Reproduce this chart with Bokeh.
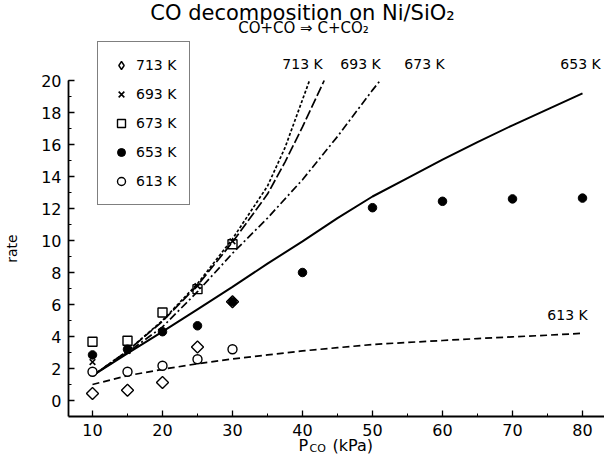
import math
from bokeh.plotting import figure
from bokeh.models import Label, Legend, LegendItem, FixedTicker, LinearAxis
from bokeh.core.properties import value
from bokeh.embed import file_html
from bokeh.resources import INLINE

# ---------------- data ----------------
pco_pts = [10, 15, 20, 25, 30]
rate_713 = [0.44, 0.64, 1.12, 3.35, 6.17]
rate_693 = [2.4, 3.1, 4.3, 7.15, 9.95]
rate_673 = [3.67, 3.73, 5.5, 6.96, 9.77]
rate_613 = [1.8, 1.8, 2.17, 2.58, 3.2]
pco_653 = [10, 15, 20, 25, 30, 40, 50, 60, 70, 80]
rate_653 = [2.85, 3.2, 4.3, 4.67, 6.17, 8.0, 12.05, 12.45, 12.6, 12.65]

fit713_p = [10, 15, 20, 25, 30, 35, 37.5, 40, 41.0]
fit713_r = [1.55, 3.1, 5.0, 7.3, 10.1, 13.4, 15.8, 18.8, 20.0]
fit693_p = [10, 15, 20, 25, 30, 35, 37.5, 40, 43.1]
fit693_r = [1.55, 3.1, 4.95, 7.2, 9.9, 12.9, 14.9, 17.1, 20.0]
fit673_p = [10, 15, 20, 25, 30, 35, 40, 45, 50, 51.1]
fit673_r = [1.55, 3.0, 4.6, 6.8, 9.2, 11.4, 13.8, 16.5, 19.4, 20.0]
fit653_p = [10, 15, 20, 25, 30, 35, 40, 45, 50, 55, 60, 65, 70, 75, 80]
fit653_r = [1.55, 2.95, 4.3, 5.7, 7.1, 8.55, 9.95, 11.4, 12.75, 13.9, 15.05, 16.15, 17.2, 18.2, 19.2]
fit613_p = [10, 15, 20, 25, 30, 35, 40, 45, 50, 55, 60, 65, 70, 75, 80]
fit613_r = [1.0, 1.55, 1.95, 2.3, 2.6, 2.85, 3.1, 3.3, 3.5, 3.63, 3.75, 3.87, 3.98, 4.08, 4.2]

x_ticks = [10, 20, 30, 40, 50, 60, 70, 80]
y_ticks = [0, 2, 4, 6, 8, 10, 12, 14, 16, 18, 20]
series_names = ["713 K", "693 K", "673 K", "653 K", "613 K"]
curve_tags = ["713 K", "693 K", "673 K", "653 K"]

# ---------------- layout helpers (page pixel -> data) ----------------
W, H = 604, 459
FONT = "DejaVu Sans"


def px(xpage):
    return 10 + (xpage - 100) / 7.0


def py(ypage):
    return (408 - ypage) / 16.0


XA, YA = px(76), -1.0          # where the axes cross
p = figure(width=W, height=H,
           x_range=(px(8), px(8 + W)), y_range=(py(8 + H), py(8)),
           x_axis_location=None, y_axis_location=None,
           output_backend="svg", toolbar_location=None)
p.min_border = 0
p.xgrid.visible = False
p.ygrid.visible = False
p.outline_line_color = None
p.background_fill_color = "white"
p.border_fill_color = "white"

# axes
xaxis = LinearAxis(fixed_location=YA, bounds=(XA, px(8 + W)),
                   ticker=FixedTicker(ticks=x_ticks, minor_ticks=list(range(10, 85, 5))))
yaxis = LinearAxis(fixed_location=XA, bounds=(YA, 20),
                   ticker=FixedTicker(ticks=y_ticks, minor_ticks=list(range(0, 21))))
for ax in (xaxis, yaxis):
    ax.major_tick_in = 6
    ax.major_tick_out = 0
    ax.minor_tick_in = 3
    ax.minor_tick_out = 0
    ax.axis_line_width = 1.8
    ax.major_tick_line_width = 1.3
    ax.minor_tick_line_width = 1.0
    ax.axis_line_color = "black"
    ax.major_tick_line_color = "black"
    ax.minor_tick_line_color = "black"
    ax.major_label_text_font = FONT
    ax.major_label_text_font_size = "16px"
    ax.major_label_text_color = "black"
xaxis.major_label_standoff = 7
yaxis.major_label_standoff = 7
yaxis.axis_label = "rate"
yaxis.axis_label_text_font = FONT
yaxis.axis_label_text_font_size = "14px"
yaxis.axis_label_text_font_style = "normal"
yaxis.axis_label_text_color = "black"
yaxis.axis_label_standoff = 18
p.add_layout(xaxis, "below")
p.add_layout(yaxis, "left")

# fitted curves
lw = 1.7
p.line(fit713_p, fit713_r, line_color="black", line_width=lw, line_dash="3 2")
p.line(fit693_p, fit693_r, line_color="black", line_width=lw, line_dash="10 3")
p.line(fit673_p, fit673_r, line_color="black", line_width=lw, line_dash="8 3 2 3")
p.line(fit653_p, fit653_r, line_color="black", line_width=2.0)
p.line(fit613_p, fit613_r, line_color="black", line_width=lw, line_dash="7 4")

# data points
p.scatter(pco_pts, rate_713, marker="square", angle=math.pi / 4, size=8.5,
          fill_color="white", line_color="black", line_width=1.4)
r713_key = p.scatter(pco_pts, rate_713, marker="diamond", size=12,
                     fill_color="white", line_color="black", line_width=1.4)
r713_key.visible = False
r693 = p.scatter(pco_pts, rate_693, marker="x", size=8,
                 line_color="black", line_width=1.6)
r673 = p.scatter(pco_pts, rate_673, marker="square", size=9,
                 fill_color="white", fill_alpha=0.0, line_color="black", line_width=1.4)
r653 = p.scatter(pco_653, rate_653, marker="circle", size=8.5,
                 fill_color="black", line_color="black")
r613 = p.scatter(pco_pts, rate_613, marker="circle", size=9,
                 fill_color="white", line_color="black", line_width=1.4)

# curve tags
tag_x = [px(310), px(368), px(432), px(588)]
tag_y = [py(71)] * 4
p.text(tag_x, tag_y, text=curve_tags, text_align="center", text_baseline="middle",
       text_font=value(FONT), text_font_size="14px", text_color="black")
p.text([px(575)], [py(322)], text=["613 K"], text_align="center", text_baseline="middle",
       text_font=value(FONT), text_font_size="14px", text_color="black")

# legend (location in px from the frame's bottom-left = canvas bottom-left)
legend = Legend(items=[LegendItem(label=n, renderers=[r]) for n, r in
                       zip(series_names, [r713_key, r693, r673, r653, r613])],
                location=(105 - 8, (8 + H) - 213), orientation="vertical",
                padding=13, spacing=9, glyph_height=20, glyph_width=20,
                label_height=20, label_standoff=5, margin=0,
                border_line_color="black", border_line_width=1.2,
                background_fill_color="white", background_fill_alpha=1.0,
                label_text_font=FONT, label_text_font_size="14px",
                label_text_color="black")
p.add_layout(legend, "center")

# titles
p.add_layout(Label(x=px(310), y=py(20), text="CO decomposition on Ni/SiO₂",
                   text_align="center", text_baseline="middle",
                   text_font=FONT, text_font_size="21px", text_color="black"))
p.add_layout(Label(x=px(311), y=py(35), text="CO+CO ⇒ C+CO₂",
                   text_align="center", text_baseline="middle",
                   text_font=FONT, text_font_size="15px", text_color="black"))

# x axis label  P_CO (kPa)
p.add_layout(Label(x=px(306), y=py(453), text="P",
                   text_align="left", text_baseline="middle",
                   text_font=FONT, text_font_size="16px", text_color="black"))
p.add_layout(Label(x=px(317), y=py(456), text="CO",
                   text_align="left", text_baseline="middle",
                   text_font=FONT, text_font_size="11px", text_color="black"))
p.add_layout(Label(x=px(340), y=py(453), text="(kPa)",
                   text_align="left", text_baseline="middle",
                   text_font=FONT, text_font_size="16px", text_color="black"))

open("out.html", "w").write(file_html(p, INLINE))
